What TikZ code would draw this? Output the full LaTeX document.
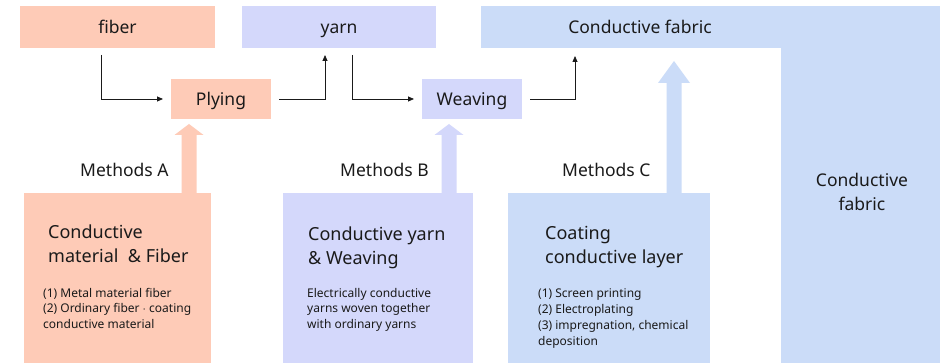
\documentclass[tikz,border=0pt]{standalone}
\usepackage{fontspec}
\setmainfont{Noto Sans}
\usetikzlibrary{calc,arrows.meta}
\definecolor{salm}{HTML}{FECBB7}
\definecolor{lav}{HTML}{D4D8FB}
\definecolor{lblue}{HTML}{CBDCF8}
\definecolor{ink}{HTML}{1A1A1A}
\newcommand\fatarrow[5]{% tip coordinate, bottom node, colour, head half width, head length
  \fill[#3] (#1) -- ++(#4,#5) -- ++({-#4+7.5},0) -- ($(#1 |- #2.north)+(7.5,0)$)
    -- ($(#1 |- #2.north)+(-7.5,0)$) -- ($(#1)+(-7.5,#5)$) -- ++({-#4+7.5},0) -- cycle;}
\begin{document}
\begin{tikzpicture}[x=1pt,y=-1pt,
  every node/.style={text=ink},
  flat/.style={inner sep=0pt,outer sep=0pt,font=\fontsize{17.5}{21}\selectfont,text height=12.5pt,text depth=0pt},
  plain/.style={inner sep=0pt,outer sep=0pt},
  conn/.style={draw=ink,line width=0.8pt,-{Triangle[length=6pt,width=5pt]}},
  title/.style={anchor=base west,inner sep=0pt,align=left,font=\fontsize{18}{24}\selectfont},
  body/.style={anchor=base west,inner sep=0pt,align=left,font=\fontsize{12}{16}\selectfont},
  meth/.style={anchor=base west,inner sep=0pt,font=\fontsize{17.5}{19}\selectfont}]
\useasboundingbox (0,0) rectangle (940,363);
\fill[white] (0,0) rectangle (940,363);
% top row
\node[flat,fill=salm,minimum width=195pt,minimum height=42pt] (fiber) at (117.5,27) {fiber};
\node[flat,fill=lav,minimum width=194pt,minimum height=42pt] (yarn) at (339,27) {yarn};
\node[plain,fill=lblue,minimum width=159pt,minimum height=357pt] (fabcol) at (860.5,184.5) {};
\node[flat,fill=lblue,minimum width=318pt,minimum height=42pt] (fabtop) at (640,27) {Conductive fabric};
\node[plain,anchor=base,align=center,font=\fontsize{17.5}{24}\selectfont] (fabtext) at (862,211) {Conductive\\fabric};
% middle row
\node[flat,fill=salm,minimum width=100pt,minimum height=40pt] (plying) at (221,99) {Plying};
\node[flat,fill=lav,minimum width=100pt,minimum height=40pt] (weaving) at (472,99) {Weaving};
% connectors
\draw[conn] ([xshift=-16.5pt,yshift=-7pt]fiber.south) |- ([xshift=-8pt]plying.west);
\draw[conn] ([xshift=8pt]plying.east) -| ([xshift=-14pt,yshift=-7pt]yarn.south);
\draw[conn] ([xshift=13pt,yshift=-7pt]yarn.south) |- ([xshift=-8pt]weaving.west);
\draw[conn] ([xshift=8pt]weaving.east) -| ([xshift=-65pt,yshift=-8pt]fabtop.south);
% method boxes
\node[plain,fill=salm,minimum width=187pt,minimum height=170pt] (boxA) at (117.5,278) {};
\node[plain,fill=lav,minimum width=190pt,minimum height=170pt] (boxB) at (378,278) {};
\node[plain,fill=lblue,minimum width=202pt,minimum height=170pt] (boxC) at (609,278) {};
% fat arrows
\coordinate (tipA) at ([xshift=-32pt,yshift=-5pt]plying.south);
\coordinate (tipB) at ([xshift=-23pt,yshift=-5pt]weaving.south);
\coordinate (tipC) at ([xshift=34pt,yshift=-13pt]fabtop.south);
\fatarrow{tipA}{boxA}{salm}{14.5}{11}
\fatarrow{tipB}{boxB}{lav}{14.5}{11}
\fatarrow{tipC}{boxC}{lblue}{16}{22}
% method labels
\node[meth] (mA) at (80,177) {Methods A};
\node[meth] (mB) at (340,177) {Methods B};
\node[meth] (mC) at (562,177) {Methods C};
% box texts (anchor = baseline of the last line)
\node[title] (tA) at (48,263) {Conductive\\material\ \ \& Fiber};
\node[body] (bA) at (43,329) {(1) Metal material fiber\\(2) Ordinary fiber $\cdot$ coating\\conductive material};
\node[title] (tB) at (308,265) {Conductive yarn\\\& Weaving};
\node[body] (bB) at (307,329) {Electrically conductive\\yarns woven together\\with ordinary yarns};
\node[title] (tC) at (545,264) {Coating\\conductive layer};
\node[body] (bC) at (538,345) {(1) Screen printing\\(2) Electroplating\\(3) impregnation, chemical\\deposition};
\end{tikzpicture}
\end{document}
